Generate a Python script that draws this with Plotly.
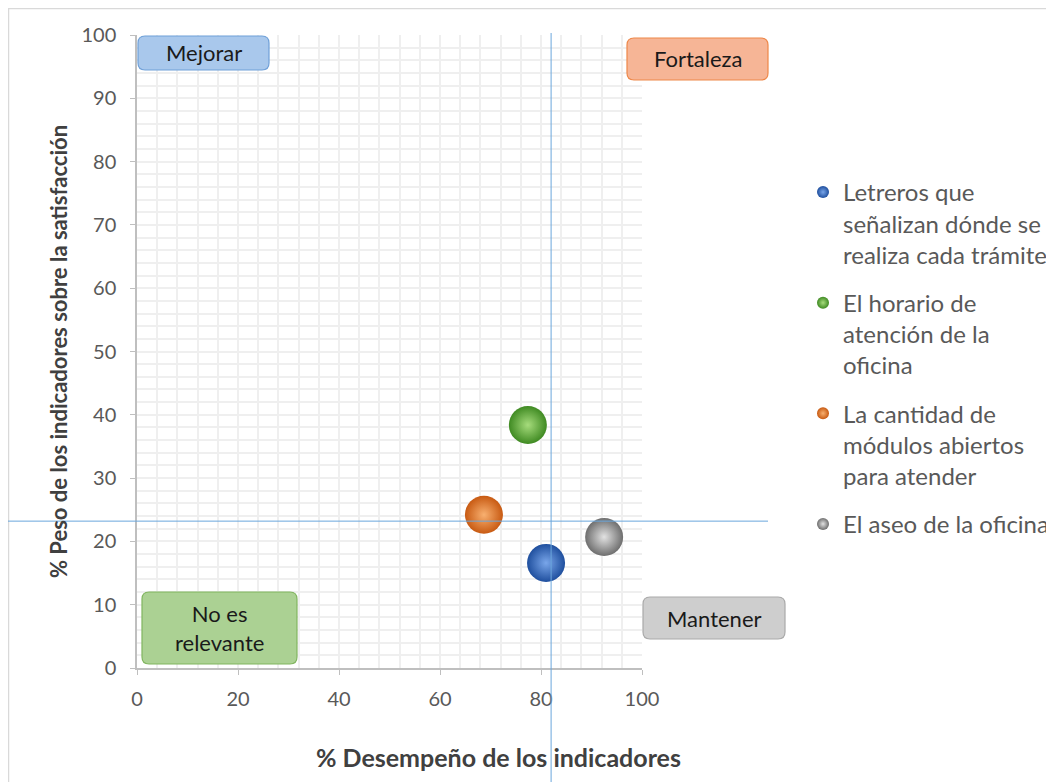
import plotly.graph_objects as go

# data
items = [
    "Letreros que<br>señalizan dónde se<br>realiza cada trámite",
    "El horario de<br>atención de la<br>oficina",
    "La cantidad de<br>módulos abiertos<br>para atender",
    "El aseo de la oficina",
]
desempeno = [81.0, 77.4, 68.7, 92.5]
peso = [16.6, 38.4, 24.2, 20.7]
edge_colors = ["#1f4f9e", "#3f8a22", "#c85a12", "#6e6e6e"]
glow_colors = ["#79a6ea", "#a6dc7c", "#f8b070", "#e2e2e2"]

# quadrant split lines
x_split = 82.0
y_split = 23.2

# the page body adds an 8px margin, so the figure is a bit smaller
OFF = 8
W, H = 1054 - OFF, 782 - OFF
# plot area in reference-image pixels
L, R, T, B = 137, 642, 35, 668


def px(xp):
    return (xp - L) / (R - L)


def py(yp):
    return (B - yp) / (B - T)


def rounded_box(x0, y0, x1, y1, r=7):
    # rounded rectangle path in paper coords, from pixel corners
    pts = [
        f"M {px(x0 + r)},{py(y0)}",
        f"L {px(x1 - r)},{py(y0)}",
        f"Q {px(x1)},{py(y0)} {px(x1)},{py(y0 + r)}",
        f"L {px(x1)},{py(y1 - r)}",
        f"Q {px(x1)},{py(y1)} {px(x1 - r)},{py(y1)}",
        f"L {px(x0 + r)},{py(y1)}",
        f"Q {px(x0)},{py(y1)} {px(x0)},{py(y1 - r)}",
        f"L {px(x0)},{py(y0 + r)}",
        f"Q {px(x0)},{py(y0)} {px(x0 + r)},{py(y0)}",
        "Z",
    ]
    return " ".join(pts)


FONT = "Lato, 'Open Sans', sans-serif"

fig = go.Figure()

for i, name in enumerate(items):
    fig.add_trace(go.Scatter(
        x=[desempeno[i]],
        y=[peso[i]],
        mode="markers",
        name=name,
        legendgroup=str(i),
        marker=dict(
            size=38,
            color=edge_colors[i],
            gradient=dict(type="radial", color=glow_colors[i]),
            line=dict(width=0),
        ),
    ))

# quadrant boxes: (label, pixel box, fill, border)
boxes = [
    ("Mejorar", (138, 36, 269, 70), "#a9c8ec", "#6fa0d8"),
    ("Fortaleza", (627, 38, 768, 80), "#f6b596", "#ee8748"),
    ("No es<br>relevante", (142, 592, 297, 664), "#abd193", "#80b55f"),
    ("Mantener", (643, 597, 785, 639), "#cecece", "#a9a9a9"),
]

shapes = [
    # outer chart frame
    dict(type="rect", xref="paper", yref="paper",
         x0=px(8.5), x1=px(1070), y0=py(8.5), y1=py(800),
         line=dict(color="#d9d9d9", width=1.5), fillcolor="rgba(0,0,0,0)", layer="below"),
    # split lines
    dict(type="line", xref="x", yref="paper", x0=x_split, x1=x_split,
         y0=py(33), y1=py(790), line=dict(color="#6aa6dc", width=1)),
    dict(type="line", xref="paper", yref="y", x0=px(0), x1=px(768),
         y0=y_split, y1=y_split, line=dict(color="#6aa6dc", width=1)),
]

annotations = []
for label, (x0, y0, x1, y1), fill, border in boxes:
    shapes.append(dict(type="path", xref="paper", yref="paper",
                       path=rounded_box(x0, y0, x1, y1),
                       fillcolor=fill, line=dict(color=border, width=1.2)))
    annotations.append(dict(
        xref="paper", yref="paper", x=px((x0 + x1) / 2), y=py((y0 + y1) / 2),
        text=label, showarrow=False, xanchor="center", yanchor="middle",
        font=dict(family=FONT, size=22, color="#1a1a1a"),
    ))

# x axis title sits off-centre in the reference, so it is an annotation
annotations.append(dict(
    xref="paper", yref="paper", x=px(498), y=py(757),
    text="<b>% Desempeño de los indicadores</b>", showarrow=False,
    xanchor="center", yanchor="middle",
    font=dict(family=FONT, size=25, color="#404040"),
))

fig.update_layout(
    width=W,
    height=H,
    margin=dict(l=L - OFF, r=W - (R - OFF), t=T - OFF, b=H - (B - OFF)),
    paper_bgcolor="white",
    plot_bgcolor="white",
    shapes=shapes,
    annotations=annotations,
    showlegend=True,
    legend=dict(
        xref="container", yref="container",
        x=(803 - OFF) / W, y=1 - (170 - OFF) / H,
        xanchor="left", yanchor="top",
        valign="top",
        font=dict(family=FONT, size=24, color="#595959"),
        itemsizing="constant",
        tracegroupgap=14,
        bgcolor="rgba(0,0,0,0)",
    ),
    xaxis=dict(
        range=[0, 100],
        dtick=20,
        tick0=0,
        showgrid=True,
        gridcolor="#efefef",
        gridwidth=2,
        minor=dict(dtick=4, showgrid=True, gridcolor="#efefef", gridwidth=2),
        showline=True,
        linecolor="#bfbfbf",
        linewidth=1.5,
        ticks="outside",
        ticklen=5,
        tickcolor="#bfbfbf",
        ticklabelstandoff=7,
        zeroline=False,
        tickfont=dict(family=FONT, size=20, color="#595959"),
    ),
    yaxis=dict(
        range=[0, 100],
        dtick=10,
        tick0=0,
        showgrid=True,
        gridcolor="#efefef",
        gridwidth=2,
        minor=dict(dtick=2, showgrid=True, gridcolor="#efefef", gridwidth=2),
        showline=True,
        linecolor="#bfbfbf",
        linewidth=1.5,
        ticks="outside",
        ticklen=5,
        tickcolor="#bfbfbf",
        ticklabelstandoff=10,
        zeroline=False,
        tickfont=dict(family=FONT, size=20, color="#595959"),
        title=dict(text="<b>% Peso de los indicadores sobre la satisfacción</b>", standoff=8,
                   font=dict(family=FONT, size=22, color="#404040")),
    ),
)

fig.write_html("out.html")
